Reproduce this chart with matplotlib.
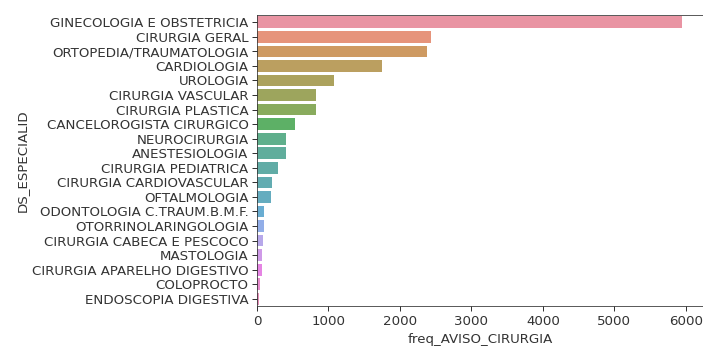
import matplotlib
matplotlib.use("Agg")
import matplotlib.pyplot as plt
import seaborn as sns

categories = [
    "GINECOLOGIA E OBSTETRICIA", "CIRURGIA GERAL", "ORTOPEDIA/TRAUMATOLOGIA",
    "CARDIOLOGIA", "UROLOGIA", "CIRURGIA VASCULAR", "CIRURGIA PLASTICA",
    "CANCELOROGISTA CIRURGICO", "NEUROCIRURGIA", "ANESTESIOLOGIA",
    "CIRURGIA PEDIATRICA", "CIRURGIA CARDIOVASCULAR", "OFTALMOLOGIA",
    "ODONTOLOGIA C.TRAUM.B.M.F.", "OTORRINOLARINGOLOGIA",
    "CIRURGIA CABECA E PESCOCO", "MASTOLOGIA", "CIRURGIA APARELHO DIGESTIVO",
    "COLOPROCTO", "ENDOSCOPIA DIGESTIVA",
]
values = [5944, 2434, 2378, 1744, 1072, 830, 828, 527, 400, 400,
          288, 214, 190, 102, 98, 78, 64, 66, 46, 23]

fig = plt.figure(figsize=(703 / 72, 349 / 72), dpi=72)
ax = fig.add_axes([0.3655, 0.123, 0.6345, 0.834])

palette = sns.color_palette("husl", len(categories))
palette = [sns.desaturate(c, 0.75) for c in palette]
sns.barplot(x=values, y=categories, hue=categories, palette=palette,
            legend=False, ax=ax, saturation=1, alpha=0.85)

fs = 13.4
ax.set_xlabel("freq_AVISO_CIRURGIA", fontsize=fs, color="#333333", labelpad=5)
ax.set_ylabel("DS_ESPECIALID", fontsize=fs, color="#333333", labelpad=3)
ax.tick_params(labelsize=fs, labelcolor="#333333", length=5)
ax.set_xticks([0, 1000, 2000, 3000, 4000, 5000, 6000])
ax.set_xlim(0, max(values) * 1.05)
for s in ax.spines.values():
    s.set_color("#333333")

fig.savefig("out.png", dpi=72)
